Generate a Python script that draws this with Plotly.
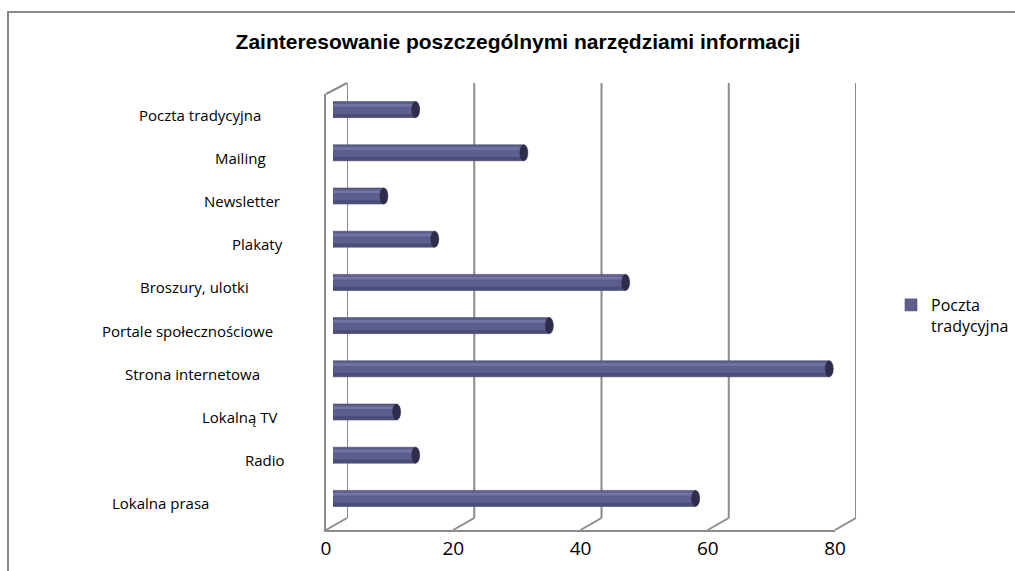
import plotly.graph_objects as go

W, H = 1015, 571

# ---- data (bottom to top as drawn) ----
categories = ["Lokalna prasa", "Radio", "Lokalną TV", "Strona internetowa",
              "Portale społecznościowe", "Broszury, ulotki", "Plakaty",
              "Newsletter", "Mailing", "Poczta tradycyjna"]
values = [57, 13, 10, 78, 34, 46, 16, 8, 30, 13]
x_ticks = [0, 20, 40, 60, 80]
series_name = "Poczta<br>tradycyjna"
title_text = "Zainteresowanie poszczególnymi narzędziami informacji"

# label horizontal centres (layout only, px)
label_cx = [160, 265, 240, 192, 187, 194, 257, 242, 240, 200]


def px(x):
    return x / W


def py(y):
    return 1 - y / H


GRID = "#8c8c8c"
BAR = "#5e5e8e"
BAR_HI = "#7474a4"
BAR_LO = "#4c4c78"
CAP = "#2e2e4c"

FRONT_X = (326, 835)
FRONT_Y = (530, 94)
BACK_X = (347, 856)
BACK_Y = (518, 83)
BAR_X = (333, 842)
BAR_Y = (520, 88)

fig = go.Figure()

idx = list(range(len(categories)))

# main bar body
fig.add_trace(go.Bar(
    x=values, y=idx, orientation="h", name=series_name,
    marker=dict(color=BAR, line=dict(color="#4a4a72", width=0.6)),
    width=0.37, offset=-0.185,
    xaxis="x3", yaxis="y3", showlegend=True,
))
# lower shade
fig.add_trace(go.Bar(
    x=values, y=idx, orientation="h", showlegend=False,
    marker=dict(color=BAR_LO, line=dict(width=0)),
    width=0.08, offset=-0.18,
    xaxis="x3", yaxis="y3", hoverinfo="skip",
))
# upper highlight
fig.add_trace(go.Bar(
    x=values, y=idx, orientation="h", showlegend=False,
    marker=dict(color=BAR_HI, line=dict(width=0)),
    width=0.06, offset=0.07,
    xaxis="x3", yaxis="y3", hoverinfo="skip",
))

# invisible traces to materialise the front and back axes
fig.add_trace(go.Scatter(x=[0, 80], y=[0, 1], mode="markers", marker=dict(opacity=0),
                         xaxis="x", yaxis="y", showlegend=False, hoverinfo="skip"))
fig.add_trace(go.Scatter(x=[0, 80], y=[0, 1], mode="markers", marker=dict(opacity=0),
                         xaxis="x2", yaxis="y2", showlegend=False, hoverinfo="skip"))

shapes = []
# outer border
shapes.append(dict(type="rect", xref="paper", yref="paper",
                   x0=px(8), x1=1.02, y0=-0.02, y1=py(12),
                   line=dict(color="#8a8a8a", width=2), layer="below"))

# back wall vertical grid lines
for t in x_ticks:
    shapes.append(dict(type="line", xref="x2", yref="paper",
                       x0=t, x1=t, y0=py(BACK_Y[0]), y1=py(BACK_Y[1]),
                       line=dict(color=GRID, width=2), layer="below"))

# floor diagonals from front ticks to back grid
dx = BACK_X[0] - FRONT_X[0]
for t in x_ticks:
    xf = FRONT_X[0] + t / 80 * (FRONT_X[1] - FRONT_X[0])
    shapes.append(dict(type="line", xref="paper", yref="paper",
                       x0=px(xf), y0=py(FRONT_Y[0]), x1=px(xf + dx), y1=py(BACK_Y[0]),
                       line=dict(color=GRID, width=2), layer="below"))
# top-left wall diagonal
shapes.append(dict(type="line", xref="paper", yref="paper",
                   x0=px(FRONT_X[0]), y0=py(FRONT_Y[1]), x1=px(BACK_X[0]), y1=py(BACK_Y[1]),
                   line=dict(color=GRID, width=2), layer="below"))

# cylinder end caps
for i, v in zip(idx, values):
    shapes.append(dict(type="circle", xref="x3", yref="y3",
                       xsizemode="pixel", ysizemode="pixel",
                       xanchor=v, yanchor=i, x0=-4, x1=4, y0=-8, y1=8,
                       fillcolor=CAP, line=dict(color="#262640", width=0.5),
                       layer="above"))

annotations = []
for i, (c, cx) in enumerate(zip(categories, label_cx)):
    annotations.append(dict(text=c, xref="paper", yref="y3", x=px(cx), y=i,
                            xanchor="center", yanchor="middle", yshift=-5,
                            showarrow=False,
                            font=dict(family="Open Sans", size=15, color="#000")))

fig.update_layout(
    width=W, height=H,
    margin=dict(l=0, r=0, t=0, b=0, autoexpand=False),
    paper_bgcolor="white", plot_bgcolor="rgba(0,0,0,0)",
    title=dict(text="<b>" + title_text + "</b>", x=px(518), xanchor="center",
               y=py(42), yanchor="middle",
               font=dict(family="Liberation Sans", size=21, color="#000")),
    barmode="overlay",
    showlegend=True,
    legend=dict(x=px(891), y=py(288), xanchor="left", yanchor="top",
                valign="top",
                font=dict(family="Open Sans", size=16, color="#000"),
                bgcolor="rgba(0,0,0,0)"),
    xaxis=dict(domain=[px(FRONT_X[0]), px(FRONT_X[1])], range=[0, 80],
               tickvals=x_ticks, ticks="", showgrid=False, zeroline=False,
               showline=True, linecolor=GRID, linewidth=2, anchor="y",
               tickfont=dict(family="Open Sans", size=19, color="#000")),
    yaxis=dict(domain=[py(FRONT_Y[0]), py(FRONT_Y[1])], range=[0, 1],
               showgrid=False, zeroline=False, showticklabels=False,
               showline=True, linecolor=GRID, linewidth=2, anchor="x"),
    xaxis2=dict(domain=[px(BACK_X[0]), px(BACK_X[1])], range=[0, 80],
                visible=False, anchor="y2"),
    yaxis2=dict(domain=[py(BACK_Y[0]), py(BACK_Y[1])], range=[0, 1],
                visible=False, anchor="x2"),
    xaxis3=dict(domain=[px(BAR_X[0]), px(BAR_X[1])], range=[0, 80],
                visible=False, anchor="y3"),
    yaxis3=dict(domain=[py(BAR_Y[0]), py(BAR_Y[1])], range=[-0.5, len(categories) - 0.5],
                visible=False, anchor="x3"),
    shapes=shapes,
    annotations=annotations,
)

fig.write_html(
    "out.html",
    config={"displayModeBar": False},
    post_script="document.body.style.margin='0';"
                "document.documentElement.style.overflow='hidden';",
)
